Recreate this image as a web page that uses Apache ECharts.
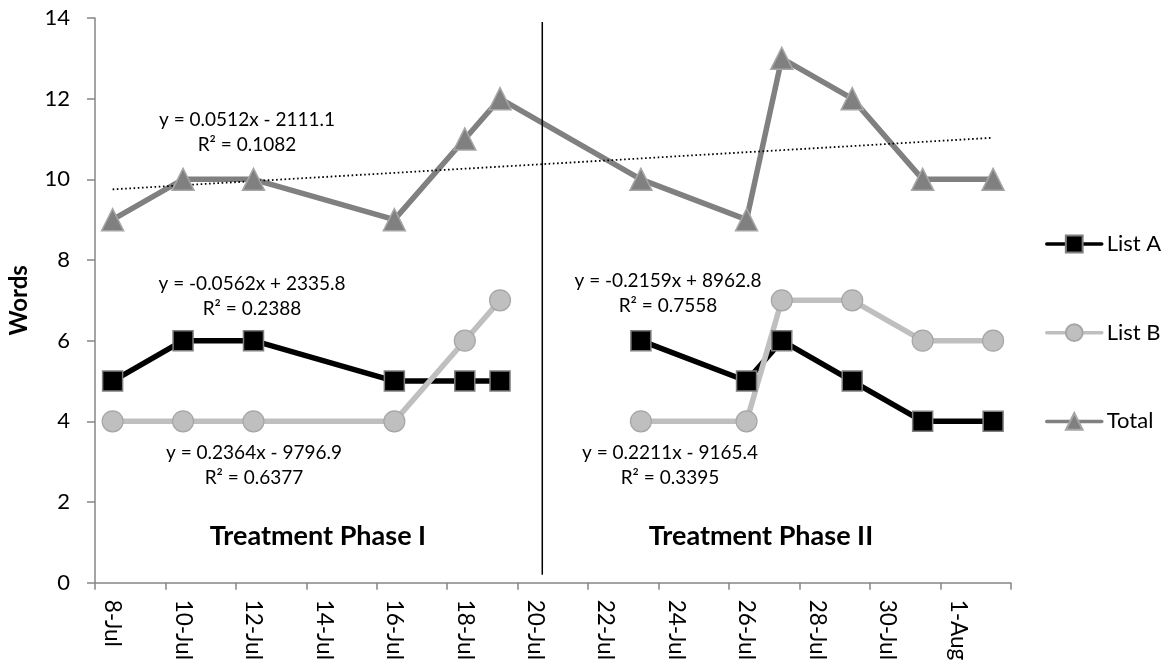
<!DOCTYPE html>
<html>
<head>
<meta charset="utf-8">
<script src="https://cdn.jsdelivr.net/npm/echarts@6/dist/echarts.min.js"></script>
<style>html,body{margin:0;padding:0;background:#fff}#c{width:1167px;height:664px}</style>
</head>
<body>
<div id="c"></div>
<script>
// ---- data ----
const axisDays = ['8-Jul','9-Jul','10-Jul','11-Jul','12-Jul','13-Jul','14-Jul','15-Jul','16-Jul','17-Jul',
  '18-Jul','19-Jul','20-Jul','21-Jul','22-Jul','23-Jul','24-Jul','25-Jul','26-Jul','27-Jul','28-Jul',
  '29-Jul','30-Jul','31-Jul','1-Aug','2-Aug'];
const sessionDates = ['8-Jul','10-Jul','12-Jul','16-Jul','18-Jul','19-Jul','23-Jul','26-Jul','27-Jul','29-Jul','31-Jul','2-Aug'];
const sessionPhase = ['I','I','I','I','I','I','II','II','II','II','II','II'];
const listA = [5,6,6,5,5,5,6,5,6,5,4,4];
const listB = [4,4,4,4,6,7,4,4,7,7,6,6];
const total = [9,10,10,9,11,12,10,9,13,12,10,10];
const yMin = 0, yMax = 14, yStep = 2;
const phaseDivider = {day: 12.2, from: 0.2, to: 13.9};
const phaseTitles = ['Treatment Phase I', 'Treatment Phase II'];
const equationTexts = [
  'y = 0.0512x - 2111.1\nR² = 0.1082',
  'y = -0.0562x + 2335.8\nR² = 0.2388',
  'y = 0.2364x - 9796.9\nR² = 0.6377',
  'y = -0.2159x + 8962.8\nR² = 0.7558',
  'y = 0.2211x - 9165.4\nR² = 0.3395'
];

// ---- helpers ----
const dayIdx = d => axisDays.indexOf(d);
function seriesData(vals, splitPhases) {
  const out = [];
  vals.forEach((v, i) => {
    if (splitPhases && i > 0 && sessionPhase[i] !== sessionPhase[i - 1]) {
      out.push([(dayIdx(sessionDates[i - 1]) + dayIdx(sessionDates[i])) / 2, '-']);
    }
    out.push([dayIdx(sessionDates[i]), v]);
  });
  return out;
}
function linearFit(vals) {
  const xs = sessionDates.map(dayIdx);
  const n = xs.length;
  const mx = xs.reduce((a, b) => a + b, 0) / n;
  const my = vals.reduce((a, b) => a + b, 0) / n;
  let sxy = 0, sxx = 0;
  xs.forEach((x, i) => { sxy += (x - mx) * (vals[i] - my); sxx += (x - mx) * (x - mx); });
  const slope = sxy / sxx, icpt = my - slope * mx;
  const x0 = xs[0], x1 = xs[n - 1];
  return [[x0, icpt + slope * x0], [x1, icpt + slope * x1]];
}

const FONT = 'Lato, "Noto Sans", sans-serif';
const AXIS_GRAY = '#868686';

const chart = echarts.init(document.getElementById('c'), null, {renderer: 'canvas'});
const option = {
  animation: false,
  backgroundColor: '#fff',
  grid: {left: 95, top: 18, width: 915.7, height: 564.7, containLabel: false, outerBoundsMode: 'none'},
  xAxis: [
    {
      type: 'value', min: -0.5, max: axisDays.length - 0.5, interval: 2,
      axisLine: {show: true, onZero: false, lineStyle: {color: AXIS_GRAY, width: 1.5}},
      axisTick: {show: true, inside: false, length: 7, lineStyle: {color: AXIS_GRAY, width: 1.5}},
      axisLabel: {show: false},
      splitLine: {show: false}
    },
    {
      type: 'category', data: axisDays, boundaryGap: true, position: 'bottom',
      axisLine: {show: false, onZero: false}, axisTick: {show: false}, splitLine: {show: false},
      axisLabel: {interval: 1, rotate: -90, margin: 17, color: '#000', fontFamily: FONT, fontSize: 22.5}
    }
  ],
  yAxis: {
    type: 'value', min: yMin, max: yMax, interval: yStep,
    name: 'Words', nameLocation: 'middle', nameGap: 64, nameRotate: 90,
    nameTextStyle: {fontFamily: FONT, fontSize: 24, fontWeight: 'bold', color: '#000'},
    axisLine: {show: true, onZero: false, lineStyle: {color: AXIS_GRAY, width: 1.5}},
    axisTick: {show: true, inside: false, length: 8, lineStyle: {color: AXIS_GRAY, width: 1.5}},
    axisLabel: {margin: 25, color: '#000', fontFamily: FONT, fontSize: 22},
    splitLine: {show: false}
  },
  legend: {
    orient: 'vertical', left: 1040, top: 228,
    itemWidth: 55, itemHeight: 21, itemGap: 66.7,
    data: ['List A', 'List B', 'Total'],
    textStyle: {fontFamily: FONT, fontSize: 22, color: '#000', lineHeight: 22},
    lineStyle: {width: 3.5, cap: 'round'}
  },
  series: [
    {
      name: 'List A', type: 'line', xAxisIndex: 0, data: seriesData(listA, true),
      symbol: 'rect', symbolSize: 20,
      lineStyle: {color: '#000', width: 5.5, cap: 'round', join: 'round'},
      itemStyle: {color: '#000', borderColor: '#7f7f7f', borderWidth: 1.5}
    },
    {
      name: 'List B', type: 'line', xAxisIndex: 0, data: seriesData(listB, true),
      symbol: 'circle', symbolSize: 21,
      lineStyle: {color: '#bfbfbf', width: 5.5, cap: 'round', join: 'round'},
      itemStyle: {color: '#bfbfbf', borderColor: '#a6a6a6', borderWidth: 1.2}
    },
    {
      name: 'Total', type: 'line', xAxisIndex: 0, data: seriesData(total, false),
      symbol: 'triangle', symbolSize: 22,
      lineStyle: {color: '#808080', width: 5.5, cap: 'round', join: 'round'},
      itemStyle: {color: '#808080', borderColor: '#a6a6a6', borderWidth: 1.5}
    },
    {
      name: 'Total trend', type: 'line', xAxisIndex: 0, data: linearFit(total),
      symbol: 'none', silent: true, z: 3,
      lineStyle: {color: '#000', width: 1.8, type: [1.6, 2.6]}
    },
    {
      name: 'Phase divider', type: 'line', xAxisIndex: 0,
      data: [[phaseDivider.day, phaseDivider.from], [phaseDivider.day, phaseDivider.to]],
      symbol: 'none', silent: true,
      lineStyle: {color: '#000', width: 1.5}
    }
  ],
  graphic: [
    {type: 'text', x: 247, y: 132, style: {text: equationTexts[0], textAlign: 'center', textVerticalAlign: 'middle', font: '19px ' + FONT, lineHeight: 25, fill: '#000'}},
    {type: 'text', x: 252, y: 296.5, style: {text: equationTexts[1], textAlign: 'center', textVerticalAlign: 'middle', font: '19px ' + FONT, lineHeight: 25, fill: '#000'}},
    {type: 'text', x: 254, y: 465.5, style: {text: equationTexts[2], textAlign: 'center', textVerticalAlign: 'middle', font: '19px ' + FONT, lineHeight: 25, fill: '#000'}},
    {type: 'text', x: 668, y: 293.5, style: {text: equationTexts[3], textAlign: 'center', textVerticalAlign: 'middle', font: '19px ' + FONT, lineHeight: 25, fill: '#000'}},
    {type: 'text', x: 670, y: 465.5, style: {text: equationTexts[4], textAlign: 'center', textVerticalAlign: 'middle', font: '19px ' + FONT, lineHeight: 25, fill: '#000'}},
    {type: 'text', x: 318, y: 536, style: {text: phaseTitles[0], textAlign: 'center', textVerticalAlign: 'middle', font: 'bold 27px ' + FONT, fill: '#000'}},
    {type: 'text', x: 761, y: 536, style: {text: phaseTitles[1], textAlign: 'center', textVerticalAlign: 'middle', font: 'bold 27px ' + FONT, fill: '#000'}}
  ]
};
chart.setOption(option);
</script>
</body>
</html>
